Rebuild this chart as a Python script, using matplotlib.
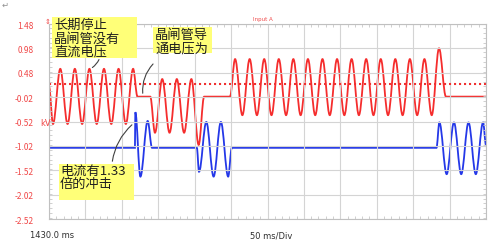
import matplotlib
matplotlib.use("Agg")
import matplotlib.pyplot as plt
from matplotlib.path import Path
from matplotlib.patches import PathPatch, Rectangle, FancyArrowPatch
from matplotlib.ticker import MultipleLocator

plt.rcParams['font.family'] = ['Noto Sans CJK SC', 'DejaVu Sans']

# red trace (voltage): knot times (ms) and values read at peaks / troughs / corners
red_t = [0, 5.5, 15.5, 25.5, 35.5, 45.5, 55.5, 65.5, 75.5, 85.5, 95.5, 105.5, 115.5,
         121.5, 139,
         145.5, 155.5, 165.5, 175.5, 185.5, 195.5, 205.5,
         213, 248.5,
         255.5, 265.5, 275.5, 285.5, 295.5, 305.5, 315.5, 325.5, 335.5, 345.5,
         355.5, 365.5, 375.5, 385.5, 395.5, 405.5, 415.5, 425.5, 435.5, 445.5,
         455.5, 465.5, 475.5, 485.5, 495.5, 505.5, 515.5, 525.5, 535.5,
         545, 600]
red_v = [0.2, -0.57, 0.56, -0.57, 0.56, -0.57, 0.56, -0.57, 0.56, -0.57, 0.56, -0.57, 0.56,
         -0.01, -0.01,
         -0.75, 0.35, -0.75, 0.35, -0.75, 0.35, -1.0,
         -0.01, -0.01,
         0.76, -0.39, 0.76, -0.39, 0.76, -0.39, 0.76, -0.39, 0.76, -0.39,
         0.76, -0.39, 0.76, -0.39, 0.76, -0.39, 0.76, -0.39, 0.76, -0.39,
         0.76, -0.39, 0.76, -0.39, 0.76, -0.39, 0.76, -0.39, 0.98,
         -0.01, -0.01]
red_ref = 0.24

# blue trace (current)
blue_t = [0, 118, 118.5, 125.5, 135.5, 141.5,
          203, 206, 216, 226, 236, 246, 251,
          532, 536, 546, 556, 566, 576, 586, 596, 600]
blue_v = [-1.06, -1.06, -0.33, -1.65, -0.51, -1.06,
          -1.06, -1.55, -0.53, -1.65, -0.53, -1.65, -1.06,
          -1.06, -0.54, -1.6, -0.54, -1.6, -0.54, -1.6, -0.54, -1.0]

y_ticks = [1.48, 0.98, 0.48, -0.02, -0.52, -1.02, -1.52, -2.02, -2.52]
y_labels = ['1.48', '0.98', '0.48', '-0.02', '-0.52', '-1.02', '-1.52', '-2.02', '-2.52']

W, H = 500, 253


def smooth_path(ts, vs):
    # cubic segments with flat tangents at each knot (sine-like between extrema)
    verts = [(ts[0], vs[0])]
    codes = [Path.MOVETO]
    for i in range(1, len(ts)):
        k = 0.36 * (ts[i] - ts[i - 1])
        verts += [(ts[i - 1] + k, vs[i - 1]), (ts[i] - k, vs[i]), (ts[i], vs[i])]
        codes += [Path.CURVE4] * 3
    return Path(verts, codes)


def px(x, y):
    return (x / W, 1 - y / H)


fig = plt.figure(figsize=(W / 100, H / 100), dpi=100)
ax = fig.add_axes([49 / W, 1 - 220 / H, 437 / W, 195 / H])
ax.set_xlim(0, 600)
ax.set_ylim(-2.52, 1.48)

ax.xaxis.set_major_locator(MultipleLocator(50))
ax.xaxis.set_minor_locator(MultipleLocator(10))
ax.set_yticks(y_ticks)
ax.set_yticklabels(y_labels)
ax.yaxis.set_minor_locator(MultipleLocator(0.1))
ax.grid(True, which='major', color='#d4d4d4', lw=0.8)
ax.tick_params(axis='x', which='both', labelbottom=False, length=0)
ax.tick_params(axis='y', which='major', length=0, pad=11, labelsize=6, labelcolor='#f04848')
ax.tick_params(which='minor', direction='in', length=2, color='#c8c8c8',
               top=True, right=True, bottom=True, left=True)
for s in ax.spines.values():
    s.set_color('#c0c0c0')
    s.set_linewidth(0.8)

ax.axhline(red_ref, color='#f03030', lw=1.5, ls=(0, (1, 1.4)))
ax.add_patch(PathPatch(smooth_path(red_t, red_v), fill=False, ec='#f52d2d', lw=1.3))
ax.add_patch(PathPatch(smooth_path(blue_t, blue_v), fill=False, ec='#2438e8', lw=1.3))

# small texts around the frame
fig.text(*px(40, 123), 'kV', fontsize=6, color='#f04848', va='center', family='DejaVu Sans')
fig.text(*px(2, 5), '↵', fontsize=6, color='#909090', va='center', family='DejaVu Sans')
fig.text(*px(45, 22), '⇕', fontsize=5, color='#f04848', va='center', family='DejaVu Sans')
fig.text(*px(253, 19), 'Input A', fontsize=4, color='#f04848', va='center', family='DejaVu Sans')
fig.text(*px(30, 236), '1430.0 ms', fontsize=6, color='#303030', va='center', family='DejaVu Sans')
fig.text(*px(250, 236), '50 ms/Div', fontsize=6, color='#303030', va='center', family='DejaVu Sans')

# yellow callouts
boxes = [
    ((52, 18, 137, 59), (54, 19), '长期停止\n晶闸管没有\n直流电压'),
    ((153, 28, 212, 54), (155, 29), '晶闸管导\n通电压为'),
    ((59, 165, 134, 201), (60, 165), '电流有1.33\n倍的冲击'),
]
for (x0, y0, x1, y1), (tx, ty), txt in boxes:
    fig.add_artist(Rectangle(px(x0, y1), (x1 - x0) / W, (y1 - y0) / H,
                             transform=fig.transFigure, fc='#ffff78', ec='none', zorder=2))
    fig.text(*px(tx, ty), txt, fontsize=9.5, color='#202020', va='top', ha='left',
             linespacing=1.02, zorder=3)

# leader lines
leaders = [
    ((100, 58), (90, 70), 'arc3,rad=-0.2'),
    ((155, 63), (143, 97), 'arc3,rad=0.25'),
    ((112, 165), (134, 124), 'arc3,rad=-0.2'),
]
for a, b, cs in leaders:
    fig.add_artist(FancyArrowPatch(px(*a), px(*b), transform=fig.transFigure,
                                   arrowstyle='-', connectionstyle=cs,
                                   color='#404040', lw=0.8, zorder=4))

fig.savefig('out.png', dpi=100)
